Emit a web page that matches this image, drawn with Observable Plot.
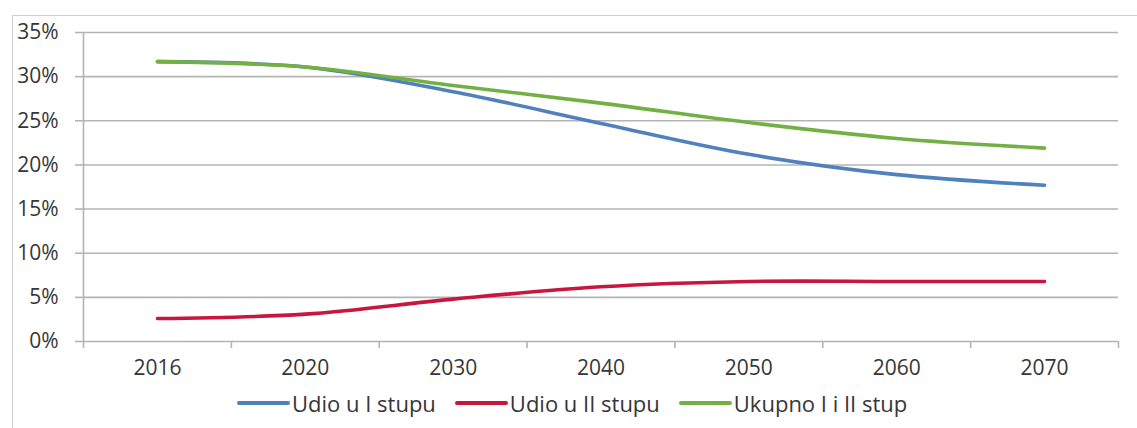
<!DOCTYPE html>
<html>
<head>
<meta charset="utf-8">
<script src="https://cdn.jsdelivr.net/npm/d3@7"></script>
<script src="https://cdn.jsdelivr.net/npm/@observablehq/plot@0.6"></script>
<style>
  html, body { margin: 0; padding: 0; background: #fff; }
  #wrap { position: relative; width: 1137px; height: 428px; overflow: hidden; font-family: "Open Sans", sans-serif; }
  #frame { position: absolute; left: 12px; top: 15px; width: 1140px; height: 430px; border-left: 1.5px solid #cfcfcf; border-top: 1.5px solid #cfcfcf; }
  #chart { position: absolute; left: 0; top: 0; }
  #legend { position: absolute; left: 237px; top: 388px; display: flex; align-items: center; font-size: 22px; color: #363636; white-space: nowrap; }
  .item { display: flex; align-items: center; margin-right: 19px; }
  .sw { width: 53px; height: 3.5px; margin-right: 2px; border-radius: 2px; }
</style>
</head>
<body>
<div id="wrap">
  <div id="frame"></div>
  <div id="chart"></div>
  <div id="legend"></div>
</div>
<script>
const years = ["2016", "2020", "2030", "2040", "2050", "2060", "2070"];
const udioI = [31.7, 31.1, 28.3, 24.7, 21.2, 18.9, 17.7];
const udioII = [2.6, 3.1, 4.8, 6.2, 6.8, 6.8, 6.8];
const ukupno = [31.7, 31.1, 29.0, 27.0, 24.8, 23.0, 21.9];
const seriesNames = ["Udio u I stupu", "Udio u II stupu", "Ukupno I i II stup"];
const seriesColors = ["#4f81bd", "#c8163f", "#72b043"];
const yTicks = [0, 5, 10, 15, 20, 25, 30, 35];

const allSeries = [udioI, udioII, ukupno];
const rows = [];
allSeries.forEach((vals, s) => vals.forEach((v, i) => rows.push({i, v: v / 100, s: seriesNames[s]})));
const idx = years.map((_, i) => i);
const bounds = d3.range(years.length + 1).map(k => k - 0.5);
const grid = "#b4b4b4";

const plot = Plot.plot({
  width: 1137,
  height: 392,
  marginLeft: 83,
  marginRight: 19,
  marginTop: 32,
  marginBottom: 51,
  style: {fontFamily: "Open Sans, sans-serif", fontSize: "21px", color: "#363636", background: "transparent"},
  x: {type: "linear", domain: [-0.5, years.length - 0.5]},
  y: {domain: [0, 0.35]},
  color: {domain: seriesNames, range: seriesColors},
  marks: [
    Plot.ruleY(yTicks.map(t => t / 100), {stroke: grid, strokeWidth: 1.6}),
    Plot.ruleX([-0.5], {stroke: grid, strokeWidth: 1.6}),
    Plot.axisY({ticks: yTicks.map(t => t / 100), tickFormat: d => Math.round(d * 100) + "%", tickSize: 8, tickPadding: 17, stroke: grid, strokeWidth: 1.6, label: null, fill: "#363636"}),
    Plot.axisX({ticks: bounds, tickFormat: () => "", tickSize: 7, stroke: grid, strokeWidth: 1.6, label: null}),
    Plot.axisX({ticks: idx, tickFormat: i => years[i], tickSize: 0, tickPadding: 19, label: null, fill: "#363636"}),
    Plot.line(rows, {x: "i", y: "v", z: "s", stroke: "s", strokeWidth: 3.6, curve: "catmull-rom", strokeLinecap: "round"})
  ]
});
document.getElementById("chart").appendChild(plot);

const legend = document.getElementById("legend");
seriesNames.forEach((n, k) => {
  const it = document.createElement("div");
  it.className = "item";
  const sw = document.createElement("div");
  sw.className = "sw";
  sw.style.background = seriesColors[k];
  const tx = document.createElement("span");
  tx.textContent = n;
  it.appendChild(sw);
  it.appendChild(tx);
  legend.appendChild(it);
});
</script>
</body>
</html>
